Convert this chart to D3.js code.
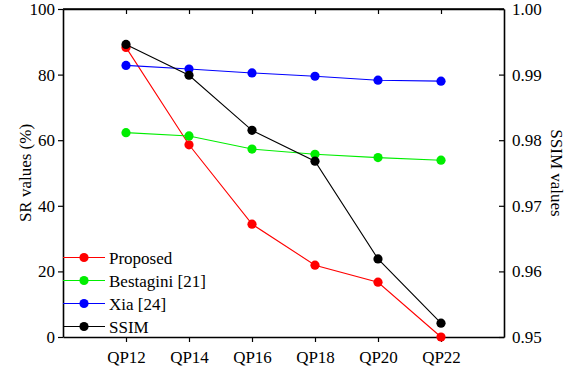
<!DOCTYPE html>
<html>
<head>
<meta charset="utf-8">
<script src="https://cdn.jsdelivr.net/npm/d3@7"></script>
<style>
  body { margin: 0; background: #fff; }
</style>
</head>
<body>
<svg id="chart" width="574" height="373"></svg>
<script>
// data
var qp = [12, 14, 16, 18, 20, 22];
var proposed = [88.3, 58.6, 34.4, 21.9, 16.7, 0.0];
var bestagini = [62.3, 61.3, 57.3, 55.7, 54.7, 53.9];
var xia = [82.8, 81.7, 80.5, 79.5, 78.3, 78.0];
var ssim = [0.9946, 0.9899, 0.9815, 0.9768, 0.9619, 0.9521];
var srTicks = [0, 20, 40, 60, 80, 100];
var ssimTicks = [0.95, 0.96, 0.97, 0.98, 0.99, 1.00];

var svg = d3.select("#chart");
var pl = 63, pr = 504, pt = 9, pb = 337;
var serif = "Liberation Serif";

var x = d3.scaleLinear().domain([10, 24]).range([pl, pr]);
var y = d3.scaleLinear().domain([0, 100]).range([pb, pt]);
var y2 = d3.scaleLinear().domain([0.95, 1.0]).range([pb, pt]);

// axes
svg.append("g").attr("class", "ax").attr("transform", "translate(0," + pb + ")")
  .call(d3.axisBottom(x).tickValues(qp).tickSize(5).tickSizeOuter(0).tickPadding(9).tickFormat(function(d){ return "QP" + d; }));
svg.append("g").attr("class", "ax").attr("transform", "translate(0," + pt + ")")
  .call(d3.axisBottom(x).tickValues(qp).tickSize(5).tickSizeOuter(0).tickFormat(""));
svg.append("g").attr("class", "ax").attr("transform", "translate(" + pl + ",0)")
  .call(d3.axisLeft(y).tickValues(srTicks).tickSize(5).tickSizeOuter(0).tickPadding(3));
svg.append("g").attr("class", "ax r").attr("transform", "translate(" + pr + ",0)")
  .call(d3.axisLeft(y2).tickValues(ssimTicks).tickSize(5).tickSizeOuter(0).tickFormat(d3.format(".2f")));

svg.selectAll(".r text").attr("text-anchor", "start").attr("x", 8);
svg.selectAll(".ax path").attr("stroke-width", 1.6);
svg.selectAll(".ax line").attr("stroke-width", 1.2);
svg.selectAll(".ax").attr("font-family", null).attr("font-size", null);
svg.selectAll(".ax text").style("font-size", "17px").style("font-family", serif);

// frame top line
svg.append("line").attr("x1", pl).attr("x2", pr).attr("y1", pt).attr("y2", pt)
  .attr("stroke", "#000").attr("stroke-width", 1.6);

// axis titles
svg.append("text").attr("transform", "translate(31," + ((pt + pb) / 2) + ") rotate(-90)")
  .attr("text-anchor", "middle").style("font-size", "17px").style("font-family", serif).text("SR values (%)");
svg.append("text").attr("transform", "translate(551," + ((pt + pb) / 2) + ") rotate(90)")
  .attr("text-anchor", "middle").style("font-size", "17px").style("font-family", serif).text("SSIM values");

var series = [
  { name: "Proposed", vals: proposed, color: "#ff0000", sc: y },
  { name: "Bestagini [21]", vals: bestagini, color: "#00ee00", sc: y },
  { name: "Xia [24]", vals: xia, color: "#0000ff", sc: y },
  { name: "SSIM", vals: ssim, color: "#000000", sc: y2 }
];

series.forEach(function(s) {
  var line = d3.line()
    .x(function(d, i) { return x(qp[i]); })
    .y(function(d) { return s.sc(d); });
  svg.append("path").datum(s.vals).attr("d", line)
    .attr("fill", "none").attr("stroke", s.color).attr("stroke-width", 1.1);
  svg.selectAll(null).data(s.vals).enter().append("circle")
    .attr("cx", function(d, i) { return x(qp[i]); })
    .attr("cy", function(d) { return s.sc(d); })
    .attr("r", 4.6).attr("fill", s.color);
});

// legend
var leg = svg.append("g");
series.forEach(function(s, i) {
  var ly = 257.5 + i * 23;
  leg.append("line").attr("x1", pl).attr("x2", 105).attr("y1", ly).attr("y2", ly)
    .attr("stroke", s.color).attr("stroke-width", 1.1);
  leg.append("circle").attr("cx", 84).attr("cy", ly).attr("r", 4.6).attr("fill", s.color);
  leg.append("text").attr("x", 109).attr("y", ly + 6).style("font-size", "17px").style("font-family", serif).text(s.name);
});
</script>
</body>
</html>
